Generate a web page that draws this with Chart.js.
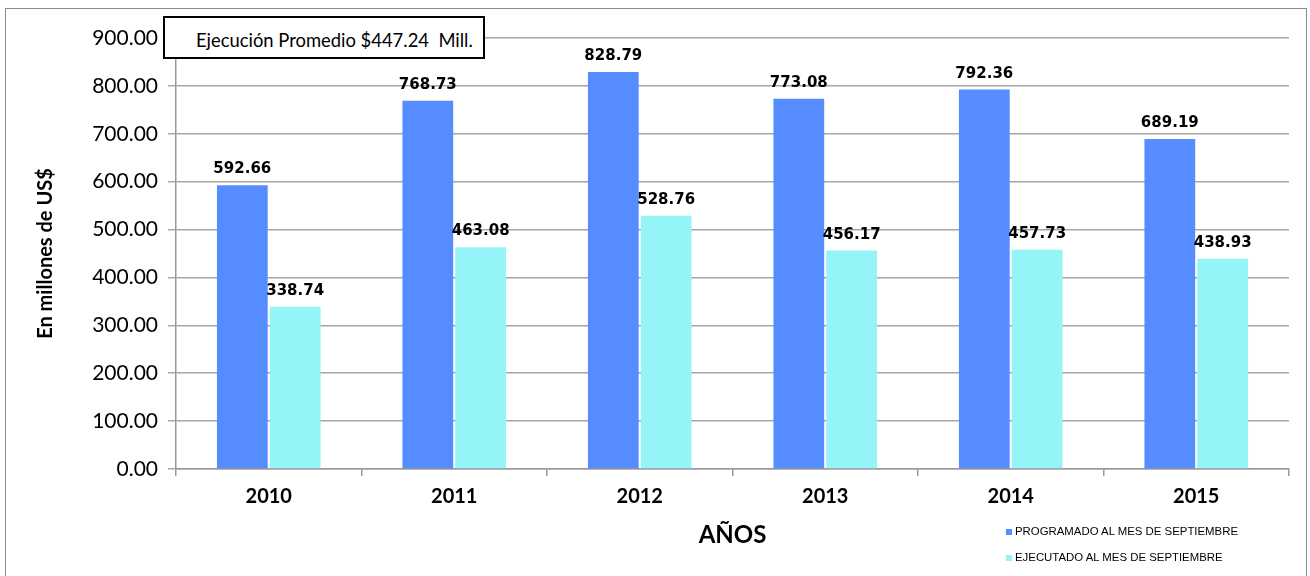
<!DOCTYPE html>
<html>
<head>
<meta charset="utf-8">
<script src="https://cdn.jsdelivr.net/npm/chart.js@4/dist/chart.umd.min.js"></script>
<style>
  body { margin: 0; background: #fff; }
  #wrap { position: relative; width: 1310px; height: 576px; overflow: hidden; }
  #wrap canvas { display: block; }
  #marco { position: absolute; left: 5px; top: 8px; width: 1302px; height: 600px; border: 1px solid #8c8c8c; box-sizing: border-box; }
  #caja { position: absolute; left: 163px; top: 16px; width: 322px; height: 43px; border: 2px solid #000; background: #fff; box-sizing: border-box;
          font-family: Lato, "Open Sans", sans-serif; font-size: 18.4px; line-height: 45px; padding-left: 31px; color: #000; white-space: nowrap; }
  .ley { position: absolute; left: 1006px; font-family: "Liberation Sans", Arial, sans-serif; font-size: 11.4px; color: #000; }
  .ley span { display: inline-block; width: 6px; height: 6px; margin-right: 3px; }
</style>
</head>
<body>
<div id="wrap">
  <div id="marco"></div>
  <canvas id="GraficoEjecucion" width="1310" height="576"></canvas>
  <div id="caja">Ejecución Promedio $447.24&nbsp; Mill.</div>
  <div class="ley" style="top:525px"><span style="background:#558cff"></span>PROGRAMADO AL MES DE SEPTIEMBRE</div>
  <div class="ley" style="top:551px"><span style="background:#94f4f8"></span>EJECUTADO AL MES DE SEPTIEMBRE</div>
</div>
<script>
//DATOS
var anios = ['2010', '2011', '2012', '2013', '2014', '2015'];
var programado = [592.66, 768.73, 828.79, 773.08, 792.36, 689.19];
var ejecutado = [338.74, 463.08, 528.76, 456.17, 457.73, 438.93];

// etiquetas encima de cada barra
var etiquetas = {
  id: 'etiquetas',
  afterDatasetsDraw: function (chart) {
    var ctx = chart.ctx;
    ctx.save();
    ctx.font = 'bold 15px "DejaVu Sans", sans-serif';
    ctx.fillStyle = '#000';
    ctx.textAlign = 'center';
    ctx.textBaseline = 'alphabetic';
    chart.data.datasets.forEach(function (ds, i) {
      chart.getDatasetMeta(i).data.forEach(function (bar, j) {
        ctx.fillText(ds.data[j].toFixed(2), bar.x, bar.y - 12);
      });
    });
    ctx.restore();
  }
};

var ctx1 = document.getElementById('GraficoEjecucion').getContext('2d');
var data1 = {
  labels: anios,
  datasets: [{
    label: 'PROGRAMADO AL MES DE SEPTIEMBRE',
    backgroundColor: '#558cff',
    data: programado,
    barPercentage: 0.96,
    categoryPercentage: 0.57
  }, {
    label: 'EJECUTADO AL MES DE SEPTIEMBRE',
    backgroundColor: '#94f4f8',
    data: ejecutado,
    barPercentage: 0.96,
    categoryPercentage: 0.57
  }]
};
var options1 = {
  responsive: false,
  animation: false,
  layout: { padding: { left: 0, top: 38, right: 21, bottom: 22 } },
  plugins: {
    legend: { display: false },
    tooltip: { enabled: false }
  },
  scales: {
    x: {
      afterFit: function (s) { s.height = 85; },
      grid: { drawOnChartArea: false, offset: true, tickLength: 7, color: '#999', lineWidth: 1.5 },
      border: { color: '#999', width: 1.5 },
      ticks: { color: '#000', padding: 9, font: { family: 'Lato, "Open Sans", sans-serif', size: 20, weight: 'bold' } },
      title: { display: true, text: 'AÑOS', color: '#000', padding: { top: 8 }, font: { family: 'Lato, "Open Sans", sans-serif', size: 24, weight: 'bold' } }
    },
    y: {
      min: 0,
      max: 900,
      afterFit: function (s) { s.width = 176; },
      grid: { color: '#a6a6a6', lineWidth: 1.5, tickLength: 8 },
      border: { color: '#999', width: 1.5 },
      ticks: {
        stepSize: 100,
        color: '#000',
        padding: 10,
        font: { family: 'Lato, "Open Sans", sans-serif', size: 21 },
        callback: function (v) { return v.toFixed(2); }
      },
      title: { display: true, text: 'En millones de US$', color: '#000', padding: { top: 34 }, font: { family: 'Lato, "Open Sans", sans-serif', size: 20, weight: 'bold' } }
    }
  }
};
var GraficoEjecucion = new Chart(ctx1, {
  type: 'bar',
  data: data1,
  options: options1,
  plugins: [etiquetas]
});
</script>
</body>
</html>
